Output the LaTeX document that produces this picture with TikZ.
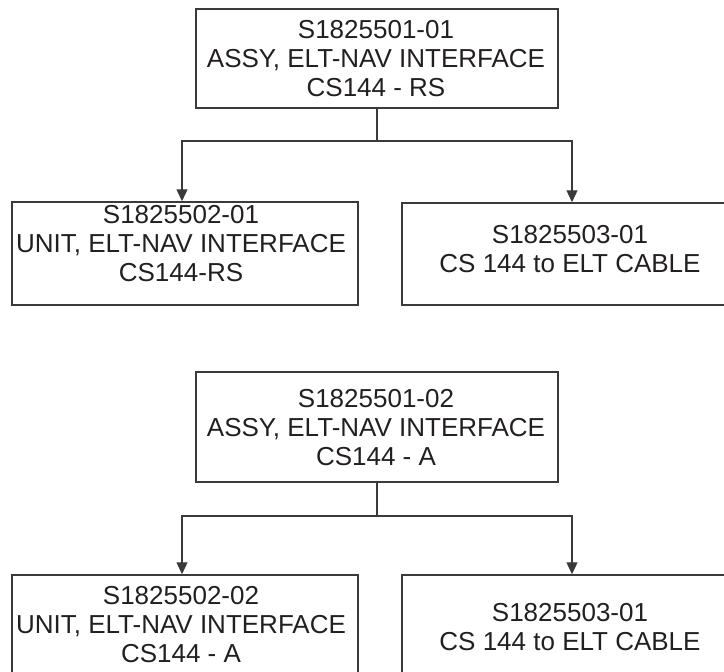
\documentclass[tikz,border=0pt]{standalone}
\usepackage{fontspec}
\setmainfont{Liberation Sans}
\usetikzlibrary{arrows.meta}
\definecolor{linegray}{HTML}{3A3A3A}
\definecolor{textgray}{HTML}{231F20}
\begin{document}
\begin{tikzpicture}[x=1pt,y=1pt,
  box/.style={draw=linegray, line width=1.5pt, inner sep=0pt},
  txt/.style={text=textgray, align=center, inner sep=0pt,
    font=\fontsize{26}{29}\selectfont},
  conn/.style={draw=linegray, line width=1.3pt},
  arr/.style={conn, -{Triangle[width=11pt,length=12pt]}}]
\useasboundingbox (0,0) rectangle (724,-672);
\begin{scope}
\clip (0,0) rectangle (724,-672);
% group 1
\node[box, minimum width=362pt, minimum height=99pt] (top1) at (377,-58.5) {};
\node[txt] (top1t) at (376,-59) {S1825501-01\\ASSY, ELT-NAV INTERFACE\\CS144 - RS};
\node[box, minimum width=346pt, minimum height=103pt] (l1) at (185,-253.5) {};
\node[txt] (l1t) at (181,-244) {S1825502-01\\UNIT, ELT-NAV INTERFACE\\CS144-RS};
\node[box, minimum width=340pt, minimum height=102pt] (r1) at (572,-254) {};
\node[txt] (r1t) at (570,-249.5) {S1825503-01\\CS 144 to ELT CABLE};
\coordinate (j1) at (377,-141);
\draw[conn] (top1.south) -- (j1);
\draw[arr] (j1) -| ([xshift=-3pt]l1.north);
\draw[arr] (j1) -| (r1.north);
% group 2
\node[box, minimum width=362pt, minimum height=110pt] (top2) at (377,-427) {};
\node[txt] (top2t) at (376,-428) {S1825501-02\\ASSY, ELT-NAV INTERFACE\\CS144 - A};
\node[box, minimum width=346pt, minimum height=115pt] (l2) at (185,-632.5) {};
\node[txt] (l2t) at (181,-625) {S1825502-02\\UNIT, ELT-NAV INTERFACE\\CS144 - A};
\node[box, minimum width=340pt, minimum height=125pt] (r2) at (572,-637.5) {};
\node[txt] (r2t) at (570,-627.5) {S1825503-01\\CS 144 to ELT CABLE};
\coordinate (j2) at (377,-516);
\draw[conn] (top2.south) -- (j2);
\draw[arr] (j2) -| ([xshift=-3pt]l2.north);
\draw[arr] (j2) -| (r2.north);
\end{scope}
\end{tikzpicture}
\end{document}
